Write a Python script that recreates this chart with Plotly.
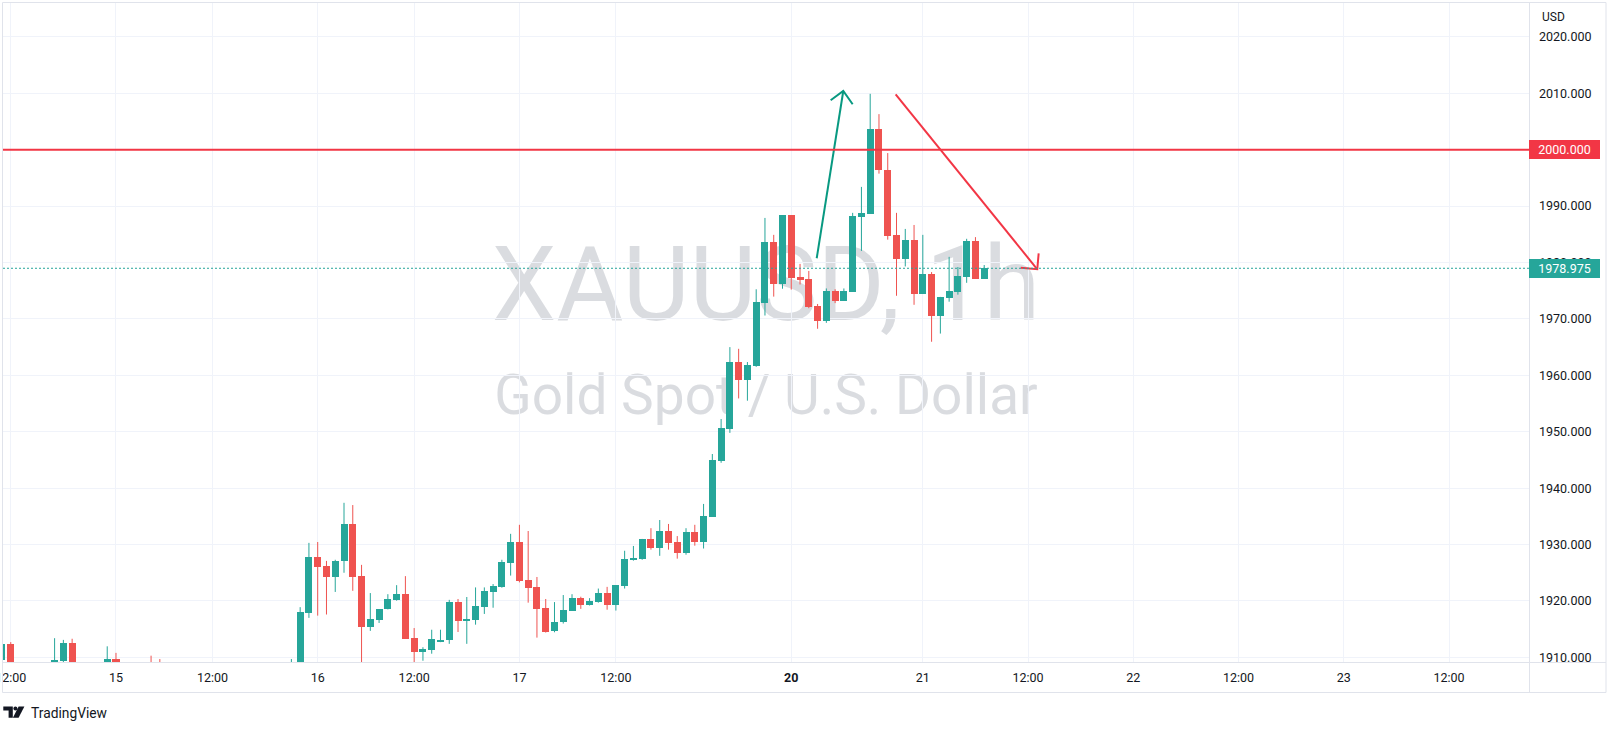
import plotly.graph_objects as go

# ---------------- data ----------------
# hourly bars; bar index 0 = first bar on screen, bar 90 = first bar of the 20th
open_ = [1909.5, 1912.3, 1906.0, 1904.5, 1905.2, 1906.4, 1907.8, 1909.4, 1912.55, 1906.5,
         1905.0, 1903.6, 1906.2, 1909.8, 1905.1, 1902.3, 1903.5, 1905.4, 1903.0, 1900.6,
         1898.1, 1899.4, 1897.9, 1894.6, 1896.2, 1897.5, 1899.1, 1898.0, 1900.2, 1902.4,
         1901.3, 1904.8, 1906.9, 1905.0, 1908.1, 1917.9, 1927.8, 1926.2, 1924.3, 1927.0,
         1933.6, 1924.4, 1915.4, 1916.7, 1918.5, 1920.2, 1921.2, 1913.4, 1911.0, 1911.3,
         1912.8, 1913.1, 1919.8, 1916.5, 1916.6, 1919.0, 1921.65, 1922.5, 1926.8, 1930.4,
         1923.7, 1922.5, 1918.75, 1914.7, 1916.2, 1918.3, 1920.5, 1919.2, 1919.9, 1921.4,
         1919.35, 1922.7, 1927.3, 1927.5, 1931.0, 1929.45, 1932.4, 1930.45, 1928.55, 1932.2,
         1930.5, 1934.9, 1944.9, 1950.55, 1962.35, 1959.2, 1961.65, 1972.9, 1983.6, 1976.25,
         1988.4, 1977.4, 1977.0, 1972.3, 1969.7, 1974.9, 1973.2, 1974.8, 1988.1, 1988.65,
         2003.65, 1996.4, 1984.9, 1980.7, 1984.0, 1974.45, 1977.95, 1970.6, 1973.75, 1974.8,
         1977.5, 1983.8, 1977.1]
high_ = [1912.6, 1912.7, 1907.5, 1906.0, 1907.0, 1908.2, 1913.4, 1913.1, 1913.3, 1908.0,
         1906.5, 1906.8, 1911.96, 1910.8, 1906.0, 1904.2, 1905.9, 1910.3, 1909.7, 1902.4,
         1900.0, 1901.5, 1899.0, 1897.0, 1898.6, 1899.8, 1901.2, 1900.5, 1903.0, 1904.1,
         1905.5, 1907.6, 1908.4, 1909.7, 1918.9, 1930.3, 1930.45, 1927.1, 1927.3, 1937.4,
         1937.0, 1926.4, 1921.4, 1918.5, 1921.2, 1922.8, 1924.4, 1915.2, 1911.8, 1914.9,
         1914.9, 1920.2, 1920.35, 1920.7, 1922.4, 1922.4, 1923.0, 1927.3, 1931.9, 1933.5,
         1932.4, 1924.25, 1920.35, 1919.8, 1921.05, 1921.2, 1920.75, 1920.5, 1922.2, 1922.5,
         1922.8, 1928.9, 1929.75, 1931.0, 1932.9, 1934.35, 1933.65, 1931.5, 1932.9, 1933.5,
         1937.2, 1946.05, 1952.25, 1965.0, 1964.7, 1962.35, 1975.25, 1987.9, 1984.9, 1988.4,
         1988.4, 1979.75, 1978.5, 1972.65, 1975.4, 1975.25, 1975.4, 1988.8, 1993.4, 2009.9,
         2006.3, 1999.4, 1988.8, 1985.95, 1986.65, 1984.9, 1978.3, 1973.9, 1981.0, 1979.2,
         1984.2, 1984.5, 1979.55]
low_ = [1908.0, 1905.0, 1903.8, 1902.5, 1904.0, 1905.0, 1907.0, 1908.6, 1905.5, 1904.0,
        1902.8, 1903.0, 1905.5, 1904.0, 1901.5, 1899.8, 1902.6, 1902.0, 1899.5, 1897.0,
        1895.3, 1897.2, 1893.5, 1892.8, 1894.9, 1896.0, 1897.3, 1895.8, 1899.0, 1900.6,
        1900.4, 1903.5, 1904.2, 1903.8, 1906.9, 1917.0, 1917.4, 1917.6, 1921.6, 1925.0,
        1921.8, 1906.0, 1914.7, 1916.1, 1918.5, 1920.05, 1913.3, 1908.0, 1909.4, 1910.65,
        1912.7, 1912.4, 1914.5, 1912.4, 1915.8, 1917.7, 1918.8, 1922.35, 1924.5, 1923.3,
        1919.7, 1913.5, 1914.4, 1914.45, 1916.0, 1918.3, 1918.6, 1919.2, 1919.7, 1918.45,
        1918.3, 1922.2, 1927.15, 1927.3, 1929.1, 1928.0, 1929.1, 1927.5, 1928.2, 1929.8,
        1929.3, 1934.9, 1944.5, 1949.8, 1955.9, 1955.5, 1961.5, 1970.6, 1973.95, 1975.35,
        1975.2, 1976.1, 1971.9, 1968.25, 1969.3, 1972.8, 1973.2, 1974.8, 1982.05, 1988.65,
        1995.75, 1984.05, 1974.1, 1979.3, 1972.5, 1974.45, 1965.95, 1967.4, 1973.05, 1974.3,
        1976.4, 1977.1, 1977.1]
close_ = [1912.3, 1906.0, 1904.5, 1905.2, 1906.4, 1907.8, 1909.5, 1912.55, 1906.5, 1905.0,
          1903.6, 1906.2, 1909.8, 1905.1, 1902.3, 1903.5, 1905.4, 1902.8, 1900.6, 1898.1,
          1899.4, 1897.9, 1894.6, 1896.2, 1897.5, 1899.1, 1898.0, 1900.2, 1902.4, 1901.3,
          1904.8, 1906.9, 1905.0, 1908.1, 1918.0, 1927.8, 1926.1, 1924.3, 1927.1, 1933.6,
          1924.3, 1915.4, 1916.8, 1918.5, 1920.3, 1921.2, 1913.3, 1911.0, 1911.5, 1913.2,
          1913.0, 1919.8, 1916.45, 1916.6, 1919.1, 1921.8, 1922.6, 1926.9, 1930.4, 1923.6,
          1922.35, 1918.6, 1914.55, 1916.3, 1918.4, 1920.5, 1919.2, 1920.0, 1921.4, 1919.35,
          1922.8, 1927.4, 1927.6, 1931.0, 1929.45, 1932.4, 1930.3, 1928.55, 1932.2, 1930.5,
          1935.05, 1945.0, 1950.65, 1962.35, 1959.2, 1961.8, 1972.95, 1983.6, 1976.25, 1988.4,
          1977.3, 1976.95, 1972.05, 1969.7, 1974.9, 1973.2, 1974.9, 1988.25, 1988.8, 2003.65,
          1996.35, 1984.75, 1980.7, 1984.0, 1974.45, 1977.95, 1970.6, 1973.9, 1974.95, 1977.6,
          1983.8, 1977.1, 1978.975]

tick_index = [1, 13, 24, 36, 47, 59, 70, 90, 105, 117, 129, 141, 153, 165]
tick_labels = ["12:00", "15", "12:00", "16", "12:00", "17", "12:00", "<b>20</b>",
               "21", "12:00", "22", "12:00", "23", "12:00"]
price_ticks = [1910, 1920, 1930, 1940, 1950, 1960, 1970, 1980, 1990, 2000, 2010, 2020]

level_price = 2000.0
last_price = 1978.975

# drawings (bar index, price)
up_arrow_x = [92.9, 95.93]
up_arrow_y = [1980.75, 2010.4]
up_head_x = [94.49, 97.0]
up_head_y = [2008.77, 2008.05]
down_arrow_x = [101.9, 118.05]
down_arrow_y = [2009.82, 1978.80]
down_head_x = [116.16, 118.21]
down_head_y = [1979.08, 1981.63]

symbol_text = "XAUUSD, 1h"
desc_text = "Gold Spot / U.S. Dollar"

# ---------------- styling ----------------
UP = "#26A69A"
DOWN = "#EF5350"
TXT = "#131722"
GRID = "#F0F3FA"
BORDER = "#E0E3EB"
FONT = "Roboto"

W, H = 1617, 732
PL, PR, PT, PB = 3, 1529, 3, 662


def px(x):
    return (x - PL) / (PR - PL)


def py(y):
    return (PB - y) / (PB - PT)


n = len(close_)
xs = list(range(n))
is_up = [c >= o for o, c in zip(open_, close_)]
base = [min(o, c) for o, c in zip(open_, close_)]
height = [max(abs(c - o), 0.2) for o, c in zip(open_, close_)]
colors = [UP if u else DOWN for u in is_up]

fig = go.Figure()

# bodies
fig.add_trace(go.Bar(x=xs, y=height, base=base, width=0.8,
                     marker=dict(color=colors, line=dict(width=0)),
                     hoverinfo="skip", showlegend=False))

# wicks
for flag, col in ((True, UP), (False, DOWN)):
    wx, wy = [], []
    for i in range(n):
        if is_up[i] == flag:
            wx += [xs[i], xs[i], None]
            wy += [low_[i], high_[i], None]
    fig.add_trace(go.Scatter(x=wx, y=wy, mode="lines",
                             line=dict(color=col, width=1),
                             hoverinfo="skip", showlegend=False))


def arrow(sx, sy, hx, hy, col):
    x = [sx[0], sx[1], None, hx[0], sx[1], hx[1]]
    y = [sy[0], sy[1], None, hy[0], sy[1], hy[1]]
    fig.add_trace(go.Scatter(x=x, y=y, mode="lines",
                             line=dict(color=col, width=2),
                             hoverinfo="skip", showlegend=False))


arrow(up_arrow_x, up_arrow_y, up_head_x, up_head_y, "#089981")
arrow(down_arrow_x, down_arrow_y, down_head_x, down_head_y, "#F23645")

shapes = []
# watermark (behind the candles)
shapes.append(dict(type="rect", xref="paper", yref="paper", x0=0, x1=1,
                   y0=py(282), y1=py(272), line=dict(width=0),
                   fillcolor="rgba(0,0,0,0)", layer="below",
                   label=dict(text=symbol_text, textposition="middle center",
                              font=dict(family=FONT, size=103,
                                        color="rgba(178,181,190,0.48)"))))
shapes.append(dict(type="rect", xref="paper", yref="paper", x0=0, x1=1,
                   y0=py(396), y1=py(386), line=dict(width=0),
                   fillcolor="rgba(0,0,0,0)", layer="below",
                   label=dict(text=desc_text, textposition="middle center",
                              font=dict(family=FONT, size=55,
                                        color="rgba(178,181,190,0.48)"))))
# horizontal level + last price line
shapes.append(dict(type="line", xref="paper", yref="y", x0=0, x1=1,
                   y0=level_price, y1=level_price,
                   line=dict(color="#F23645", width=2)))
shapes.append(dict(type="line", xref="paper", yref="y", x0=0, x1=1,
                   y0=last_price, y1=last_price,
                   line=dict(color=UP, width=1, dash="2px,2px")))
# hide the part of the lowest price label that falls below the pane
shapes.append(dict(type="rect", xref="paper", yref="paper",
                   x0=px(1530.5), x1=px(1605.5), y0=py(673), y1=py(662.6),
                   line=dict(width=0), fillcolor="white", layer="above"))
# frame
frame = [((2.5, 2.5), (2.5, 692.5)), ((1606, 1606), (2.5, 692.5)),
         ((2.5, 1606), (2.5, 2.5)), ((2.5, 1606), (692.5, 692.5)),
         ((2.5, 1606), (662.5, 662.5)), ((1529.5, 1529.5), (2.5, 692.5))]
for (xa, xb), (ya, yb) in frame:
    shapes.append(dict(type="line", xref="paper", yref="paper",
                       x0=px(xa), x1=px(xb), y0=py(ya), y1=py(yb),
                       line=dict(color=BORDER, width=1), layer="above"))
# TradingView logo mark
logo = ("M {a},{b} L {c},{b} L {c},{d} L {e},{d} L {e},{f} L {a},{f} Z").format(
    a=px(3.3), b=py(706.5), c=px(12.8), d=py(717.8), e=px(8.6), f=py(710.4))
shapes.append(dict(type="path", xref="paper", yref="paper", path=logo,
                   fillcolor=TXT, line=dict(width=0), layer="above"))
shapes.append(dict(type="circle", xref="paper", yref="paper",
                   x0=px(13.4), x1=px(17.4), y0=py(710.6), y1=py(706.6),
                   fillcolor=TXT, line=dict(width=0), layer="above"))
slash = "M {a},{b} L {c},{b} L {d},{e} L {f},{e} Z".format(
    a=px(18.6), b=py(706.5), c=px(24.4), d=px(18.6), e=py(717.8), f=px(12.9))
shapes.append(dict(type="path", xref="paper", yref="paper", path=slash,
                   fillcolor=TXT, line=dict(width=0), layer="above"))

annotations = [
    dict(text=f"{level_price:.3f}", xref="paper", yref="y", x=1, y=level_price,
         xanchor="left", yanchor="middle", showarrow=False, bgcolor="#F23645",
         font=dict(family=FONT, size=12.5, color="white"), width=71, height=19,
         borderpad=0, borderwidth=0, align="center"),
    dict(text=f"{last_price:.3f}", xref="paper", yref="y", x=1, y=last_price,
         xanchor="left", yanchor="middle", showarrow=False, bgcolor=UP,
         font=dict(family=FONT, size=12.5, color="white"), width=71, height=19,
         borderpad=0, borderwidth=0, align="center"),
    dict(text="USD", xref="paper", yref="paper", x=px(1540), y=py(16.7),
         xanchor="left", yanchor="middle", showarrow=False,
         font=dict(family=FONT, size=12, color=TXT)),
    dict(text="TradingView", xref="paper", yref="paper", x=px(28.5), y=py(712.5),
         xanchor="left", yanchor="middle", showarrow=False,
         font=dict(family=FONT, size=13.8, color=TXT)),
]

fig.update_layout(
    width=W, height=H,
    margin=dict(l=PL, r=W - PR, t=PT, b=H - PB, pad=0, autoexpand=False),
    paper_bgcolor="white", plot_bgcolor="white",
    showlegend=False, hovermode=False, bargap=0,
    shapes=shapes, annotations=annotations,
    font=dict(family=FONT, color=TXT, size=12),
)
fig.update_xaxes(range=[0.1163, 174.12], tickmode="array", tickvals=tick_index,
                 ticktext=tick_labels, showgrid=True, gridcolor=GRID, gridwidth=1,
                 zeroline=False, showline=False, ticks="", ticklabelstandoff=6,
                 ticklabeloverflow="allow", automargin=False,
                 tickfont=dict(family=FONT, size=12.5, color=TXT), fixedrange=True)
fig.update_yaxes(range=[1909.18, 2026.0], side="right", tickmode="array",
                 tickvals=price_ticks, ticktext=[f"{v:.3f}" for v in price_ticks],
                 showgrid=True, gridcolor=GRID, gridwidth=1, zeroline=False,
                 showline=False, ticks="", ticklabelstandoff=9, automargin=False,
                 tickfont=dict(family=FONT, size=12.5, color=TXT), fixedrange=True)

fig.write_html("out.html", config={"displayModeBar": False},
               post_script="document.body.style.margin='0';document.body.style.overflow='hidden';")
